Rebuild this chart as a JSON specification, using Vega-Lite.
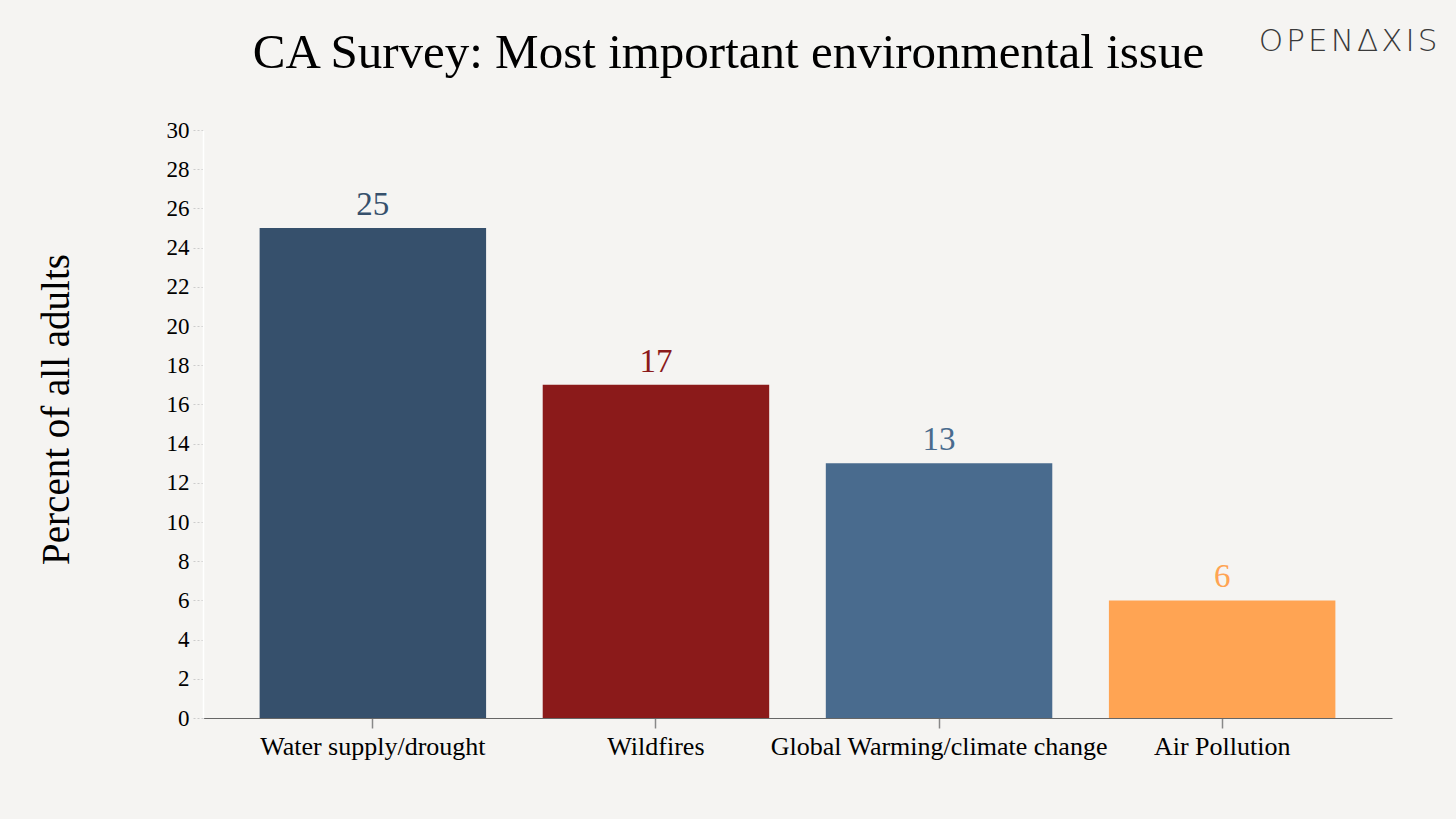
{
  "$schema": "https://vega.github.io/schema/vega-lite/v6.json",
  "width": 1189,
  "height": 588,
  "autosize": {"type": "none"},
  "padding": {"left": 203, "top": 130, "right": 64, "bottom": 101},
  "background": "#f5f4f2",
  "title": {
    "text": "CA Survey: Most important environmental issue",
    "font": "Liberation Serif",
    "fontSize": 49,
    "fontWeight": "normal",
    "color": "#000000",
    "anchor": "middle",
    "frame": "group",
    "dx": -69,
    "offset": -52
  },
  "config": {
    "view": {"stroke": null},
    "font": "Liberation Serif",
    "axisY": {
      "labelOverlap": false,
      "labelFont": "Liberation Serif",
      "labelFontSize": 23,
      "labelColor": "#000000",
      "labelPadding": 4,
      "grid": false,
      "domainColor": "#ffffff",
      "domainWidth": 1.5,
      "tickColor": "#cccccc",
      "tickDash": [2, 2],
      "tickSize": 10,
      "titleFont": "Liberation Serif",
      "titleFontSize": 39,
      "titleFontWeight": "normal",
      "titleColor": "#000000",
      "titlePadding": 90,
      "titleY": 279
    },
    "axisX": {
      "labelAngle": 0,
      "labelLimit": 0,
      "labelFont": "Liberation Serif",
      "labelFontSize": 26,
      "labelColor": "#000000",
      "labelPadding": 5,
      "domainColor": "#666666",
      "domainWidth": 1.2,
      "tickColor": "#888888",
      "tickSize": 10,
      "tickWidth": 1.5
    }
  },
  "datasets": {
    "survey": [
      {"issue": "Water supply/drought", "pct": 25, "color": "#36506c"},
      {"issue": "Wildfires", "pct": 17, "color": "#8b1a1a"},
      {"issue": "Global Warming/climate change", "pct": 13, "color": "#496b8e"},
      {"issue": "Air Pollution", "pct": 6, "color": "#ffa453"}
    ],
    "logo": [{"logo": "O\u200aP\u200aE\u200aN\u200aΔ\u200aX\u200aI\u200aS"}]
  },
  "layer": [
    {
      "data": {"name": "survey"},
      "mark": {"type": "bar"},
      "encoding": {
        "x": {
          "field": "issue",
          "type": "nominal",
          "sort": null,
          "title": null,
          "scale": {"paddingInner": 0.2, "paddingOuter": 0.2}
        },
        "y": {
          "field": "pct",
          "type": "quantitative",
          "title": "Percent of all adults",
          "scale": {"domain": [0, 30], "nice": false},
          "axis": {
            "title": "Percent of all adults",
            "values": [0, 2, 4, 6, 8, 10, 12, 14, 16, 18, 20, 22, 24, 26, 28, 30],
            "labelOverlap": false
          }
        },
        "color": {"field": "color", "type": "nominal", "scale": null}
      }
    },
    {
      "data": {"name": "survey"},
      "mark": {"type": "text", "baseline": "alphabetic", "dy": -13, "fontSize": 33, "font": "Liberation Serif"},
      "encoding": {
        "x": {"field": "issue", "type": "nominal", "sort": null, "title": null},
        "y": {
          "field": "pct",
          "type": "quantitative",
          "title": "Percent of all adults",
          "axis": {
            "title": "Percent of all adults",
            "values": [0, 2, 4, 6, 8, 10, 12, 14, 16, 18, 20, 22, 24, 26, 28, 30],
            "labelOverlap": false
          }
        },
        "text": {"field": "pct", "type": "quantitative"},
        "color": {"field": "color", "type": "nominal", "scale": null}
      }
    },
    {
      "data": {"name": "logo"},
      "mark": {"type": "text", "font": "DejaVu Sans", "fontWeight": 200, "fontSize": 31, "fill": "#3a3a3a", "dx": 126, "baseline": "middle", "align": "center"},
      "encoding": {
        "x": {"datum": "Air Pollution", "type": "nominal", "title": null},
        "y": {
          "datum": 34.5,
          "type": "quantitative",
          "title": "Percent of all adults",
          "axis": {
            "title": "Percent of all adults",
            "values": [0, 2, 4, 6, 8, 10, 12, 14, 16, 18, 20, 22, 24, 26, 28, 30],
            "labelOverlap": false
          }
        },
        "text": {"field": "logo", "type": "nominal"}
      }
    }
  ]
}
